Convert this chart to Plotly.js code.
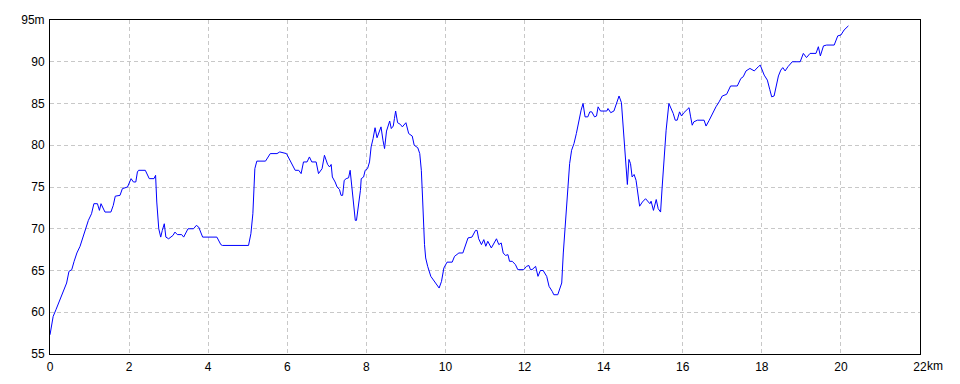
<!DOCTYPE html>
<html>
<head>
<meta charset="utf-8">
<script src="https://cdn.plot.ly/plotly-3.0.1.min.js"></script>
<style>html,body{margin:0;padding:0;background:#fff;}#chart{width:960px;height:384px;}</style>
</head>
<body>
<div id="chart"></div>
<script>
// distance (km)
const distanceKm = [0,0.03,0.08,0.15,0.25,0.34,0.42,0.48,0.55,0.61,0.68,0.76,0.83,0.91,0.97,1.05,1.11,1.20,1.25,1.29,1.39,1.54,1.60,1.65,1.77,1.83,1.96,2.05,2.11,2.17,2.21,2.24,2.41,2.51,2.63,2.67,2.70,2.75,2.80,2.84,2.89,2.93,3.00,3.11,3.16,3.22,3.33,3.38,3.49,3.63,3.70,3.76,3.86,4.22,4.32,4.36,5.02,5.08,5.13,5.18,5.23,
5.45,5.57,5.74,5.81,5.98,6.06,6.14,6.20,6.29,6.35,6.41,6.50,6.56,6.62,6.73,6.79,6.88,6.94,7.02,7.07,7.11,7.14,7.21,7.26,7.32,7.36,7.40,7.44,7.49,7.55,7.59,7.64,7.67,7.72,7.75,7.81,7.85,7.87,7.93,7.97,8.03,8.08,8.12,8.17,8.22,8.27,8.32,8.37,8.42,8.46,8.51,8.54,8.59,8.63,8.68,8.71,8.74,8.79,8.86,8.91,9.00,9.07,9.16,9.21,9.30,9.35,9.39,9.42,9.44,9.47,9.50,9.55,9.63,9.72,9.79,9.84,9.90,9.96,10.04,10.17,10.23,10.34,10.44,10.50,10.57,10.67,10.76,10.80,10.84,
10.91,10.97,11.02,11.07,11.16,11.22,11.29,11.35,11.41,11.46,11.52,11.58,11.62,11.69,11.77,11.83,11.98,12.05,12.11,12.15,12.19,12.28,12.34,12.40,12.47,12.56,12.62,12.70,12.74,12.84,12.94,12.98,13.02,13.06,13.10,13.14,13.19,13.25,13.31,13.37,13.43,13.48,13.53,13.60,13.65,13.70,13.77,13.82,13.86,13.92,13.99,14.08,14.11,14.18,14.26,14.33,14.39,14.45,14.49,14.52,14.56,14.60,14.64,14.68,14.72,14.77,14.82,14.87,14.91,14.98,15.06,15.17,15.20,15.26,15.33,15.38,15.44,15.48,15.53,15.58,15.65,15.71,15.76,15.81,15.86,15.92,15.97,16.03,16.10,16.16,16.20,16.24,16.28,16.37,16.54,16.59,16.67,
16.75,16.84,16.92,17.00,17.11,17.21,17.38,17.47,17.53,17.60,17.70,17.81,17.91,17.96,18.06,18.14,18.20,18.25,18.31,18.36,18.42,18.48,18.53,18.59,18.66,18.77,18.97,19.05,19.13,19.22,19.37,19.43,19.48,19.56,19.64,19.83,19.92,20.00,20.08,20.19];
// elevation (m)
const elevationM = [57.3,58.1,59.5,60.3,61.5,62.7,63.5,64.9,65.1,66.1,67.1,67.9,68.9,70.3,71.0,71.8,73.0,73.0,72.2,73.0,72.0,72.0,72.8,73.9,74.0,74.8,75.0,76.0,75.6,75.6,76.8,77.0,77.0,76.0,76.0,76.4,73.2,70.0,69.0,69.8,70.6,69.0,68.8,69.2,69.6,69.3,69.3,69.0,70.0,70.0,70.4,70.2,69.0,69.0,68.1,68.0,68.0,69.4,71.8,77.2,78.1,
78.1,79.0,79.0,79.2,79.0,78.2,77.6,77.0,77.0,76.6,78.0,78.0,78.6,78.0,78.0,76.6,77.2,78.8,77.7,77.4,77.7,76.2,75.6,75.0,74.7,74.0,74.0,75.8,76.0,76.1,77.0,74.7,73.2,71.0,71.0,73.0,74.6,76.0,76.2,77.0,77.2,78.0,79.8,80.8,82.1,80.9,81.6,82.2,80.6,79.6,81.7,82.2,82.9,82.0,82.3,83.2,84.1,82.7,82.5,82.2,82.7,81.4,81.1,80.0,79.7,79.0,77.0,73.8,71.0,68.1,66.5,65.5,64.3,63.7,63.3,62.9,63.7,65.3,66.0,66.0,66.7,67.1,67.1,67.9,68.9,69.0,69.8,69.8,68.8,
68.1,68.7,67.9,68.5,67.7,68.3,68.8,68.1,68.3,67.1,66.8,66.9,66.1,66.1,65.7,65.1,65.1,65.5,65.6,65.1,65.1,65.5,64.3,65.0,65.0,64.3,63.1,62.5,62.1,62.1,63.5,67.1,69.5,72.6,74.6,77.8,79.4,80.2,81.4,83.0,84.2,85.0,83.4,83.4,84.0,84.0,83.4,83.5,84.6,84.1,84.1,84.1,84.4,83.9,84.1,85.2,85.9,85.1,82.2,80.2,77.2,75.3,78.3,77.8,76.2,76.5,75.8,73.8,72.7,73.2,73.6,73.0,73.3,72.2,73.5,72.4,72.0,75.0,79.0,81.8,85.0,84.4,83.8,83.0,83.0,84.0,83.5,83.9,84.2,84.5,83.4,82.4,82.8,83.0,83.0,82.3,83.0,
83.8,84.6,85.2,85.9,86.1,87.1,87.1,88.0,88.2,88.9,89.2,88.9,89.4,89.6,88.4,87.8,86.7,85.8,85.9,87.2,88.3,89.0,89.3,88.9,89.4,90.0,90.0,91.0,90.5,91.0,91.0,91.8,90.7,91.9,92.0,92.0,93.1,93.2,93.8,94.3];
// tick labels
const xTickVals = [0,2,4,6,8,10,12,14,16,18,20,22];
const xTickText = ["0","2","4","6","8","10","12","14","16","18","20","22"];
const yTickVals = [55,60,65,70,75,80,85,90,95];
const yTickText = ["55","60","65","70","75","80","85","90","95m"];

const font = {family: "Liberation Sans, Arial, sans-serif", size: 12, color: "#000"};
const trace = {x: distanceKm, y: elevationM, type: "scatter", mode: "lines",
  line: {color: "#0000ff", width: 1}, hoverinfo: "skip"};
const layout = {
  width: 960, height: 384,
  margin: {l: 50, r: 40, t: 20, b: 30, pad: 0},
  paper_bgcolor: "#fff", plot_bgcolor: "#fff",
  showlegend: false, font: font,
  xaxis: {range: [0, 22], tickvals: xTickVals, ticktext: xTickText, ticks: "",
    showgrid: true, gridcolor: "#c8c8c8", griddash: "4px,3px", gridwidth: 1,
    showline: true, linecolor: "#000", linewidth: 1, mirror: true, zeroline: false,
    tickfont: font, ticklabelstandoff: 2, fixedrange: true},
  yaxis: {range: [55, 95], tickvals: yTickVals, ticktext: yTickText, ticks: "",
    showgrid: true, gridcolor: "#c8c8c8", griddash: "4px,3px", gridwidth: 1,
    showline: true, linecolor: "#000", linewidth: 1, mirror: true, zeroline: false,
    tickfont: font, ticklabelstandoff: 2, fixedrange: true},
  annotations: [{x: 22, y: 0, xref: "x", yref: "paper", text: "km", showarrow: false,
    xanchor: "left", yanchor: "top", xshift: 5, yshift: -3, font: font}]
};
Plotly.newPlot("chart", [trace], layout, {staticPlot: true, displayModeBar: false});
</script>
</body>
</html>
